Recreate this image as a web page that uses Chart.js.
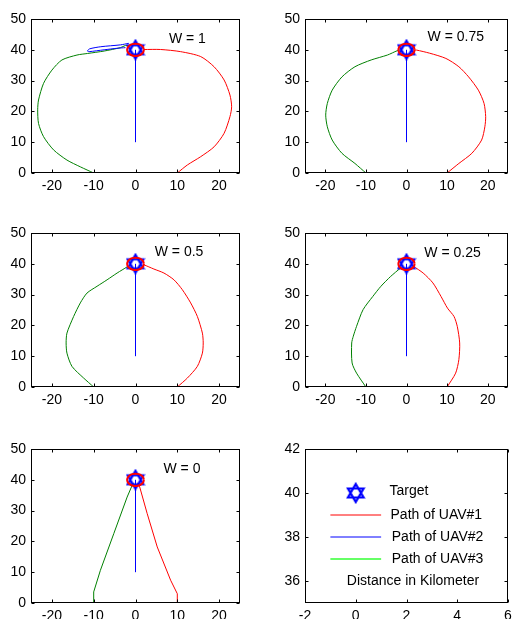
<!DOCTYPE html>
<html>
<head>
<meta charset="utf-8">
<script src="https://cdn.jsdelivr.net/npm/chart.js@4/dist/chart.umd.min.js"></script>
<style>
html, body { margin:0; padding:0; background:#fff; }
#wrap { position:relative; width:519px; height:619px; overflow:hidden; background:#fff; }
#wrap canvas { position:absolute; }
</style>
</head>
<body>
<div id="wrap">
    <canvas id="p1"></canvas>
    <canvas id="p2"></canvas>
    <canvas id="p3"></canvas>
    <canvas id="p4"></canvas>
    <canvas id="p5"></canvas>
    <canvas id="p6"></canvas>
</div>
<script>
// tick labels
const xTicksPath = [-20, -10, 0, 10, 20];
const yTicksPath = [0, 10, 20, 30, 40, 50];
const xTicksLeg  = [-2, 0, 2, 4, 6];
const yTicksLeg  = [36, 38, 40, 42];

const weightLabels = ['W = 1', 'W = 0.75', 'W = 0.5', 'W = 0.25', 'W = 0'];
const weightLabelPos = [[8, 43.5], [5.2, 44], [4.6, 43.7], [4.4, 43.4], [6.7, 43.4]];

// target (km) and the 2 km ring round it
const target = [[0, 40]];
const targetRing = [[2,40],[1.85,40.77],[1.41,41.41],[0.77,41.85],[0,42],[-0.77,41.85],[-1.41,41.41],
    [-1.85,40.77],[-2,40],[-1.85,39.23],[-1.41,38.59],[-0.77,38.15],[0,38],[0.77,38.15],[1.41,38.59],
    [1.85,39.23],[2,40]];

// UAV#2 always goes straight up
const uav2 = [[0, 10], [0, 40]];
const uav2LoopW1 = [[-1.6,42.1],[-3.6,41.6],[-8.3,41],[-11,40.3],[-11.5,39.6],[-11.1,39.4],
    [-7.5,40],[-4.4,40.5],[-2.4,40.7]];

// UAV#1 (red) per weight
const uav1W1   = [[10,0],[12.4,2.6],[15.6,5.3],[18.8,8.5],[21.2,12.9],[22.6,18.3],[23,21.5],[22.6,25.3],
    [21.2,30.2],[18.8,34.5],[15.6,37.8],[10.8,39.4],[6,40.1],[2,40.1]];
const uav1W075 = [[10,0],[12.9,3.1],[16.1,6.4],[18.5,10.7],[19.3,15],[19.5,18.3],[19.1,22.6],[17.7,26.9],
    [15.3,31.2],[12.9,34.5],[9.7,37.2],[5.7,38.9],[2.5,39.9],[1.5,40]];
const uav1W05  = [[10,0],[12.4,2.9],[14.8,6.7],[16,11],[16.2,14.3],[16,17.5],[14.8,22.9],[13.2,27.3],
    [11.2,31.6],[9.2,34.8],[6.8,37],[4.4,38.3],[2,39.7]];
const uav1W025 = [[10,0],[12.1,4.5],[12.9,8.9],[13.1,14.3],[12.5,19.7],[11.7,22.9],[10.1,25.6],[8.5,29.4],
    [6.5,33.8],[4.1,37],[1.7,39.2]];
const uav1W0   = [[10,0],[10,3],[8.4,7.4],[5.2,18.2],[2.8,29],[1,37.7],[0.5,39]];

// UAV#3 (green) per weight
const uav3W1   = [[-10,0],[-13.2,2],[-16.4,4.2],[-19.6,7.5],[-22,11.8],[-23.2,16.1],[-23.4,20.5],[-23.2,23.7],
    [-22,29.1],[-20,33.4],[-17.6,36.7],[-14,38.3],[-11.5,38.8],[-7.5,39.6],[-3.6,40.7],[-2.4,41.4],[-1.5,41.2]];
const uav3W075 = [[-10,0],[-12.7,3.1],[-15.9,6.4],[-18.3,10.7],[-19.5,15],[-19.9,18.8],[-19.5,22.6],[-18.3,26.9],
    [-15.9,31.2],[-12.7,34.5],[-8.7,36.7],[-4.7,38.3],[-2.3,39.7],[-1.5,40]];
const uav3W05  = [[-10,0],[-12.4,2.9],[-15.2,6.7],[-16.4,11],[-16.6,14.3],[-16.4,17.5],[-14.8,22.9],[-13.2,27.3],
    [-11.6,30.5],[-9.2,32.7],[-6.8,34.8],[-4.4,37],[-2,39]];
const uav3W025 = [[-10,0],[-12.3,4.5],[-13.4,7.8],[-13.5,14.3],[-13.1,16.5],[-12.3,19.7],[-10.7,25.1],[-8.3,29.4],
    [-6.3,32.7],[-3.9,35.9],[-1.5,38.6]];
const uav3W0   = [[-10,0],[-10,3.6],[-8.4,10.6],[-5.2,22.5],[-2,34.4],[-0.8,38.2],[-0.5,39]];

// legend panel
const legendLines = [[[-1,39],[1,39]], [[-1,38],[1,38]], [[-1,37],[1,37]]];
const legendTexts = ['Target', 'Path of UAV#1', 'Path of UAV#2', 'Path of UAV#3', 'Distance in Kilometer'];
const legendTextPos = [[1.33,40.1], [1.37,39], [1.42,38], [1.42,37], [-0.35,36]];

const RED = '#ff0000', BLUE = '#0000ff', GREEN = '#008000', LIGHTGREEN = '#66ff66';
const FONT = '"Liberation Sans", Arial, sans-serif';

function pts(arr) { return arr.map(p => ({ x: p[0], y: p[1] })); }

// six-pointed star marker like matlab 'h'
function hexagram() {
    const c = document.createElement('canvas');
    c.width = 20; c.height = 22;
    const g = c.getContext('2d');
    const cx = 10, cy = 11, r = 9, s = r * Math.sin(Math.PI / 3);
    g.strokeStyle = BLUE;
    g.lineWidth = 2.2;
    g.lineJoin = 'miter';
    g.beginPath();
    g.moveTo(cx, cy - r); g.lineTo(cx + s, cy + r / 2); g.lineTo(cx - s, cy + r / 2); g.closePath();
    g.moveTo(cx, cy + r); g.lineTo(cx + s, cy - r / 2); g.lineTo(cx - s, cy - r / 2); g.closePath();
    g.stroke();
    return c;
}
const star = hexagram();

function line(data, color, width, tension) {
    return { data: pts(data), showLine: true, borderColor: color, borderWidth: width || 1,
             pointRadius: 0, pointHoverRadius: 0, tension: tension || 0, fill: false };
}

// first dataset is painted last, so the ring sits on top of the star
function targetSets() {
    return [
        line(targetRing, RED, 2, 0.3),
        { data: pts(target), pointStyle: star, pointRadius: 10, showLine: false },
    ];
}

// frame with inside ticks on all four sides + free text in data units
const matlabAxes = {
    id: 'matlabAxes',
    afterDatasetsDraw(chart, args, opts) {
        const { ctx, chartArea: a, scales } = chart;
        const l = Math.round(a.left) + 0.5, t = Math.round(a.top) + 0.5;
        const r = Math.round(a.right) - 0.5, b = Math.round(a.bottom) - 0.5;
        ctx.save();
        ctx.strokeStyle = '#000';
        ctx.lineWidth = 1;
        ctx.strokeRect(l, t, r - l, b - t);
        ctx.beginPath();
        for (const tk of scales.x.ticks) {
            const px = Math.round(scales.x.getPixelForValue(tk.value)) + 0.5;
            ctx.moveTo(px, b); ctx.lineTo(px, b - 3);
            ctx.moveTo(px, t); ctx.lineTo(px, t + 3);
        }
        for (const tk of scales.y.ticks) {
            const py = Math.round(scales.y.getPixelForValue(tk.value)) + 0.5;
            ctx.moveTo(l, py); ctx.lineTo(l + 3, py);
            ctx.moveTo(r, py); ctx.lineTo(r - 3, py);
        }
        ctx.stroke();

        ctx.fillStyle = '#000';
        ctx.font = '14px ' + FONT;
        ctx.textAlign = 'left';
        ctx.textBaseline = 'middle';
        for (const it of (opts.texts || [])) {
            ctx.fillText(it.text, scales.x.getPixelForValue(it.x), scales.y.getPixelForValue(it.y));
        }
        ctx.restore();
    }
};

function makePanel(id, box, area, xr, yr, xTicks, yTicks, datasets, texts) {
    const cv = document.getElementById(id);
    cv.width = box.w; cv.height = box.h;
    cv.style.left = box.left + 'px';
    cv.style.top = box.top + 'px';
    const yw = area.left - box.left;
    const xh = box.top + box.h - area.bottom;
    const tickFont = { family: FONT, size: 14 };
    return new Chart(cv, {
        type: 'scatter',
        data: { datasets },
        options: {
            responsive: false,
            animation: false,
            events: [],
            layout: { padding: { left: 0, top: area.top - box.top, right: box.left + box.w - area.right, bottom: 0 } },
            plugins: { legend: { display: false }, tooltip: { enabled: false }, matlabAxes: { texts } },
            scales: {
                x: {
                    type: 'linear', min: xr[0], max: xr[1],
                    grid: { display: false, drawTicks: false }, border: { display: false },
                    ticks: { color: '#000', font: tickFont, padding: 5, maxRotation: 0, callback: v => String(v) },
                    afterBuildTicks: s => { s.ticks = xTicks.map(v => ({ value: v })); },
                    afterFit: s => { s.height = xh; s.paddingLeft = 0; s.paddingRight = 0; },
                },
                y: {
                    type: 'linear', min: yr[0], max: yr[1],
                    grid: { display: false, drawTicks: false }, border: { display: false },
                    ticks: { color: '#000', font: tickFont, padding: 5, callback: v => String(v) },
                    afterBuildTicks: s => { s.ticks = yTicks.map(v => ({ value: v })); },
                    afterFit: s => { s.width = yw; s.paddingTop = 0; s.paddingBottom = 0; },
                },
            },
        },
        plugins: [matlabAxes],
    });
}

const cols = [
    { left: 0, w: 260, a: 31, b: 240 },
    { left: 260, w: 259, a: 305, b: 515 },
];
const rows = [
    { top: 0, h: 205, a: 19, b: 173 },
    { top: 205, h: 205, a: 233, b: 387 },
    { top: 410, h: 209, a: 449, b: 603 },
];

const red   = [uav1W1, uav1W075, uav1W05, uav1W025, uav1W0];
const green = [uav3W1, uav3W075, uav3W05, uav3W025, uav3W0];

for (let i = 0; i < 5; i++) {
    const c = cols[i % 2], r = rows[Math.floor(i / 2)];
    const bend = i === 4 ? 0 : 0.25;
    const sets = targetSets();
    sets.push(line(uav2, BLUE));
    if (i === 0) sets.push(line(uav2LoopW1, BLUE, 1, 0.25));
    sets.push(line(red[i], RED, 1, bend));
    sets.push(line(green[i], GREEN, 1, bend));
    makePanel('p' + (i + 1),
        { left: c.left, top: r.top, w: c.w, h: r.h },
        { left: c.a, right: c.b, top: r.a, bottom: r.b },
        [-25, 25], [0, 50], xTicksPath, yTicksPath, sets,
        [{ x: weightLabelPos[i][0], y: weightLabelPos[i][1], text: weightLabels[i] }]);
}

// legend panel
{
    const c = cols[1], r = rows[2];
    const sets = [
        { data: pts(target), pointStyle: star, pointRadius: 10, showLine: false },
        line(legendLines[0], RED),
        line(legendLines[1], BLUE),
        line(legendLines[2], LIGHTGREEN, 2),
    ];
    makePanel('p6',
        { left: c.left, top: r.top, w: c.w, h: r.h },
        { left: c.a, right: c.b, top: r.a, bottom: r.b },
        [-2, 6], [35, 42], xTicksLeg, yTicksLeg, sets,
        legendTexts.map((t, k) => ({ x: legendTextPos[k][0], y: legendTextPos[k][1], text: t })));
}
</script>
</body>
</html>
